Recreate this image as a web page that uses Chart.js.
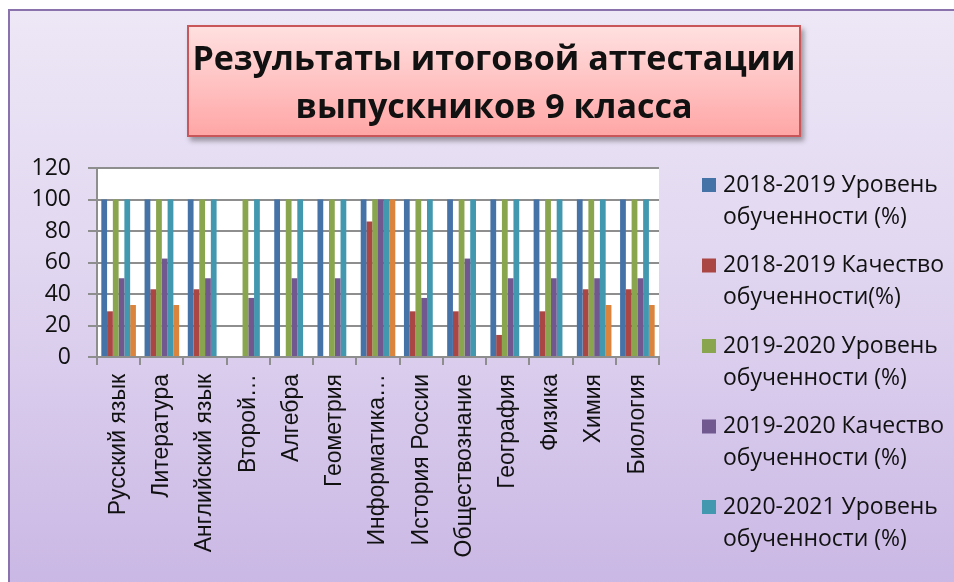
<!DOCTYPE html>
<html>
<head>
<meta charset="utf-8">
<script src="https://cdn.jsdelivr.net/npm/chart.js@4/dist/chart.umd.min.js"></script>
<style>
  html, body { margin: 0; padding: 0; background: #fff; }
  #wrap { position: relative; width: 954px; height: 582px; overflow: hidden; }
  #frame {
    position: absolute; left: 8px; top: 9px; width: 960px; height: 590px;
    border-left: 2px solid #8a72ad; border-top: 2px solid #8a72ad;
    background: linear-gradient(#ede7f6, #e2d8f1 40%, #c9b6e4);
  }
  #title {
    position: absolute; left: 187px; top: 25px; width: 610px; height: 108px;
    border: 2px solid #c9575a;
    background: linear-gradient(#ffe0e0, #ffa6a6);
    box-shadow: 3px 4px 5px rgba(0,0,0,0.35);
    font: bold 34px "Open Sans", sans-serif; color: #111;
    text-align: center; line-height: 48px;
    display: flex; align-items: center; justify-content: center;
  }
  canvas { position: absolute; left: 0; top: 0; }
</style>
</head>
<body>
<div id="wrap">
  <div id="frame"></div>
  <canvas id="c" width="954" height="582"></canvas>
  <div id="title">Результаты итоговой аттестации<br>выпускников 9 класса</div>
</div>
<script>
const categories = ['Русский язык', 'Литература', 'Английский язык', 'Второй…', 'Алгебра',
  'Геометрия', 'Информатика…', 'История России', 'Обществознание', 'География',
  'Физика', 'Химия', 'Биология'];

const level1819   = [100, 100, 100, 0, 100, 100, 100, 100, 100, 100, 100, 100, 100];
const quality1819 = [29, 43, 43, 0, 0, 0, 86, 29, 29, 14, 29, 43, 43];
const level1920   = [100, 100, 100, 100, 100, 100, 100, 100, 100, 100, 100, 100, 100];
const quality1920 = [50, 62.5, 50, 37.5, 50, 50, 100, 37.5, 62.5, 50, 50, 50, 50];
const level2021   = [100, 100, 100, 100, 100, 100, 100, 100, 100, 100, 100, 100, 100];
const quality2021 = [33, 33, 0, 0, 0, 0, 100, 0, 0, 0, 0, 33, 33];

const yTicks = [0, 20, 40, 60, 80, 100, 120];

const series = [
  { label: '2018-2019 Уровень обученности (%)', data: level1819, color: '#4572a7' },
  { label: '2018-2019 Качество обученности(%)', data: quality1819, color: '#aa4643' },
  { label: '2019-2020 Уровень обученности (%)', data: level1920, color: '#89a54e' },
  { label: '2019-2020 Качество обученности (%)', data: quality1920, color: '#71588f' },
  { label: '2020-2021 Уровень обученности (%)', data: level2021, color: '#4198af' },
  { label: '2020-2021 Качество обученности (%)', data: quality2021, color: '#db843d' },
];

// the legend in the picture only fits five entries
const legendCount = 5;

const plotBg = {
  id: 'plotBg',
  beforeDraw(chart) {
    const { ctx, chartArea: a } = chart;
    ctx.save();
    ctx.fillStyle = '#fff';
    ctx.fillRect(a.left, a.top, a.right - a.left, a.bottom - a.top);
    ctx.restore();
  },
};

const sideLegend = {
  id: 'sideLegend',
  afterDraw(chart) {
    const ctx = chart.ctx;
    ctx.save();
    ctx.font = '23px "Open Sans", sans-serif';
    ctx.textBaseline = 'middle';
    chart.data.datasets.slice(0, legendCount).forEach((ds, i) => {
      const y = 185 + i * 80.5;
      const words = ds.label.split(' ');
      ctx.fillStyle = ds.backgroundColor;
      ctx.fillRect(702, y - 7, 14, 14);
      ctx.fillStyle = '#111';
      ctx.fillText(words.slice(0, 2).join(' '), 723, y);
      ctx.fillText(words.slice(2).join(' '), 723, y + 32);
    });
    ctx.restore();
  },
};

new Chart(document.getElementById('c'), {
  type: 'bar',
  data: {
    labels: categories,
    datasets: series.map(s => ({
      label: s.label,
      data: s.data,
      backgroundColor: s.color,
      barPercentage: 1,
      categoryPercentage: 0.8,
    })),
  },
  options: {
    responsive: false,
    animation: false,
    layout: { padding: { left: 0, top: 168, right: 295, bottom: 0 } },
    plugins: { legend: { display: false }, tooltip: { enabled: false } },
    scales: {
      x: {
        afterFit: s => { s.height = 225; },
        grid: { offset: true, drawOnChartArea: false, color: '#8e8e8e', lineWidth: 2, tickLength: 8 },
        border: { color: '#8e8e8e', width: 2 },
        ticks: {
          minRotation: 90, maxRotation: 90, autoSkip: false, padding: 9,
          color: '#111', font: { family: 'Liberation Sans', size: 23 },
        },
      },
      y: {
        min: 0, max: 120,
        afterFit: s => { s.width = 97; },
        afterBuildTicks: s => { s.ticks = yTicks.map(v => ({ value: v })); },
        grid: { color: '#8e8e8e', lineWidth: 2, tickLength: 9 },
        border: { color: '#8e8e8e', width: 2 },
        ticks: {
          padding: 17, color: '#111',
          font: { family: 'Open Sans', size: 23 },
        },
      },
    },
  },
  plugins: [plotBg, sideLegend],
});
</script>
</body>
</html>
